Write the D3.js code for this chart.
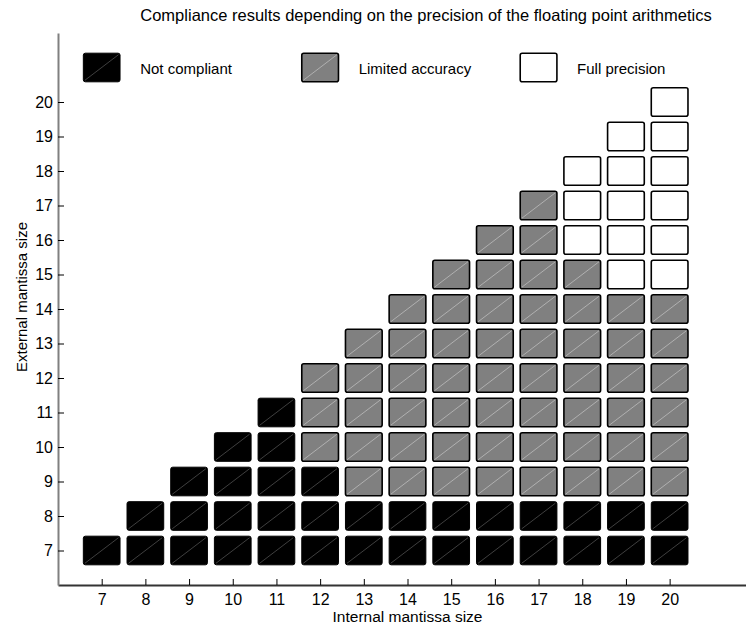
<!DOCTYPE html>
<html>
<head>
<meta charset="utf-8">
<script src="https://cdn.jsdelivr.net/npm/d3@7"></script>
<style>
  body { margin: 0; background: #fff; }
  text { font-family: 'Liberation Sans', Arial, sans-serif; }
</style>
</head>
<body>
<div id="chart"></div>
<script>
// internal mantissa size per column, and the highest external size of each class
const internalSizes = [7, 8, 9, 10, 11, 12, 13, 14, 15, 16, 17, 18, 19, 20];
const lastNotCompliant = [7, 8, 9, 10, 11, 9, 8, 8, 8, 8, 8, 8, 8, 8];
const lastLimited = [7, 8, 9, 10, 11, 12, 13, 14, 15, 16, 17, 15, 14, 14];
const lastFull = [7, 8, 9, 10, 11, 12, 13, 14, 15, 16, 17, 18, 19, 20];
const tickValues = [7, 8, 9, 10, 11, 12, 13, 14, 15, 16, 17, 18, 19, 20];

const categories = ['Not compliant', 'Limited accuracy', 'Full precision'];
const legendX = [7, 12, 17];
const legendY = 21;

const FILL = { 'Not compliant': '#000000', 'Limited accuracy': '#808080', 'Full precision': '#ffffff' };
const DIAG = { 'Not compliant': '#5a5a5a', 'Limited accuracy': '#c4c4c4', 'Full precision': '#ffffff' };

const width = 746;
const height = 625;

const svg = d3.select('#chart').append('svg')
  .attr('width', width)
  .attr('height', height);

const x = d3.scaleLinear().domain([6, 22]).range([58, 757]);
const y = d3.scaleLinear().domain([6, 22]).range([585, 33]);

const cellW = (x(1) - x(0)) * 0.84;
const cellH = (y(0) - y(1)) * 0.83;

// build cells
const cells = [];
internalSizes.forEach((ins, i) => {
  for (let ext = 7; ext <= lastFull[i]; ext++) {
    let cat;
    if (ext <= lastNotCompliant[i]) cat = categories[0];
    else if (ext <= lastLimited[i]) cat = categories[1];
    else cat = categories[2];
    cells.push({ ins: ins, ext: ext, cat: cat });
  }
});

function drawCell(g, cx, cy, cat) {
  const x0 = cx - cellW / 2;
  const y0 = cy - cellH / 2;
  g.append('rect')
    .attr('x', x0)
    .attr('y', y0)
    .attr('width', cellW)
    .attr('height', cellH)
    .attr('rx', 2)
    .attr('fill', FILL[cat])
    .attr('stroke', '#000')
    .attr('stroke-width', cat === categories[0] ? 1 : 1.6);
  g.append('line')
    .attr('x1', x0 + 1.5)
    .attr('y1', y0 + cellH - 1.5)
    .attr('x2', x0 + cellW - 1.5)
    .attr('y2', y0 + 1.5)
    .attr('stroke', DIAG[cat])
    .attr('stroke-width', 0.7);
}

// axes
const xAxis = d3.axisBottom(x)
  .tickValues(tickValues)
  .tickSizeInner(-6)
  .tickSizeOuter(0)
  .tickPadding(9);

const yAxis = d3.axisLeft(y)
  .tickValues(tickValues)
  .tickSizeInner(-6)
  .tickSizeOuter(0)
  .tickPadding(5);

const gx = svg.append('g')
  .attr('transform', `translate(0, ${y(6)})`)
  .call(xAxis);
gx.select('.domain').attr('stroke', '#333').attr('stroke-width', 2);

const gy = svg.append('g')
  .attr('transform', `translate(${x(6)}, 0)`)
  .call(yAxis);
gy.select('.domain').attr('stroke', '#808080').attr('stroke-width', 2);

svg.selectAll('.tick line').attr('stroke', '#000');
svg.selectAll('.tick text')
  .attr('fill', '#000')
  .style('font-size', '16px')
  .style('font-family', "'Liberation Sans', Arial, sans-serif");

// cells
const cellGroup = svg.append('g');
cells.forEach(d => {
  drawCell(cellGroup, x(d.ins), y(d.ext), d.cat);
});

// legend
const legend = svg.append('g');
categories.forEach((cat, i) => {
  drawCell(legend, x(legendX[i]), y(legendY), cat);
  legend.append('text')
    .attr('x', x(legendX[i]) + 38.5)
    .attr('y', y(legendY) + 6)
    .style('font-size', '15px')
    .text(cat);
});

// title and labels
svg.append('text')
  .attr('x', 426)
  .attr('y', 21)
  .attr('text-anchor', 'middle')
  .style('font-size', '16.5px')
  .text('Compliance results depending on the precision of the floating point arithmetics');

svg.append('text')
  .attr('x', (x.range()[0] + x.range()[1]) / 2)
  .attr('y', 622)
  .attr('text-anchor', 'middle')
  .style('font-size', '15.5px')
  .text('Internal mantissa size');

svg.append('text')
  .attr('transform', 'translate(27, 297) rotate(-90)')
  .attr('text-anchor', 'middle')
  .style('font-size', '15px')
  .text('External mantissa size');
</script>
</body>
</html>
